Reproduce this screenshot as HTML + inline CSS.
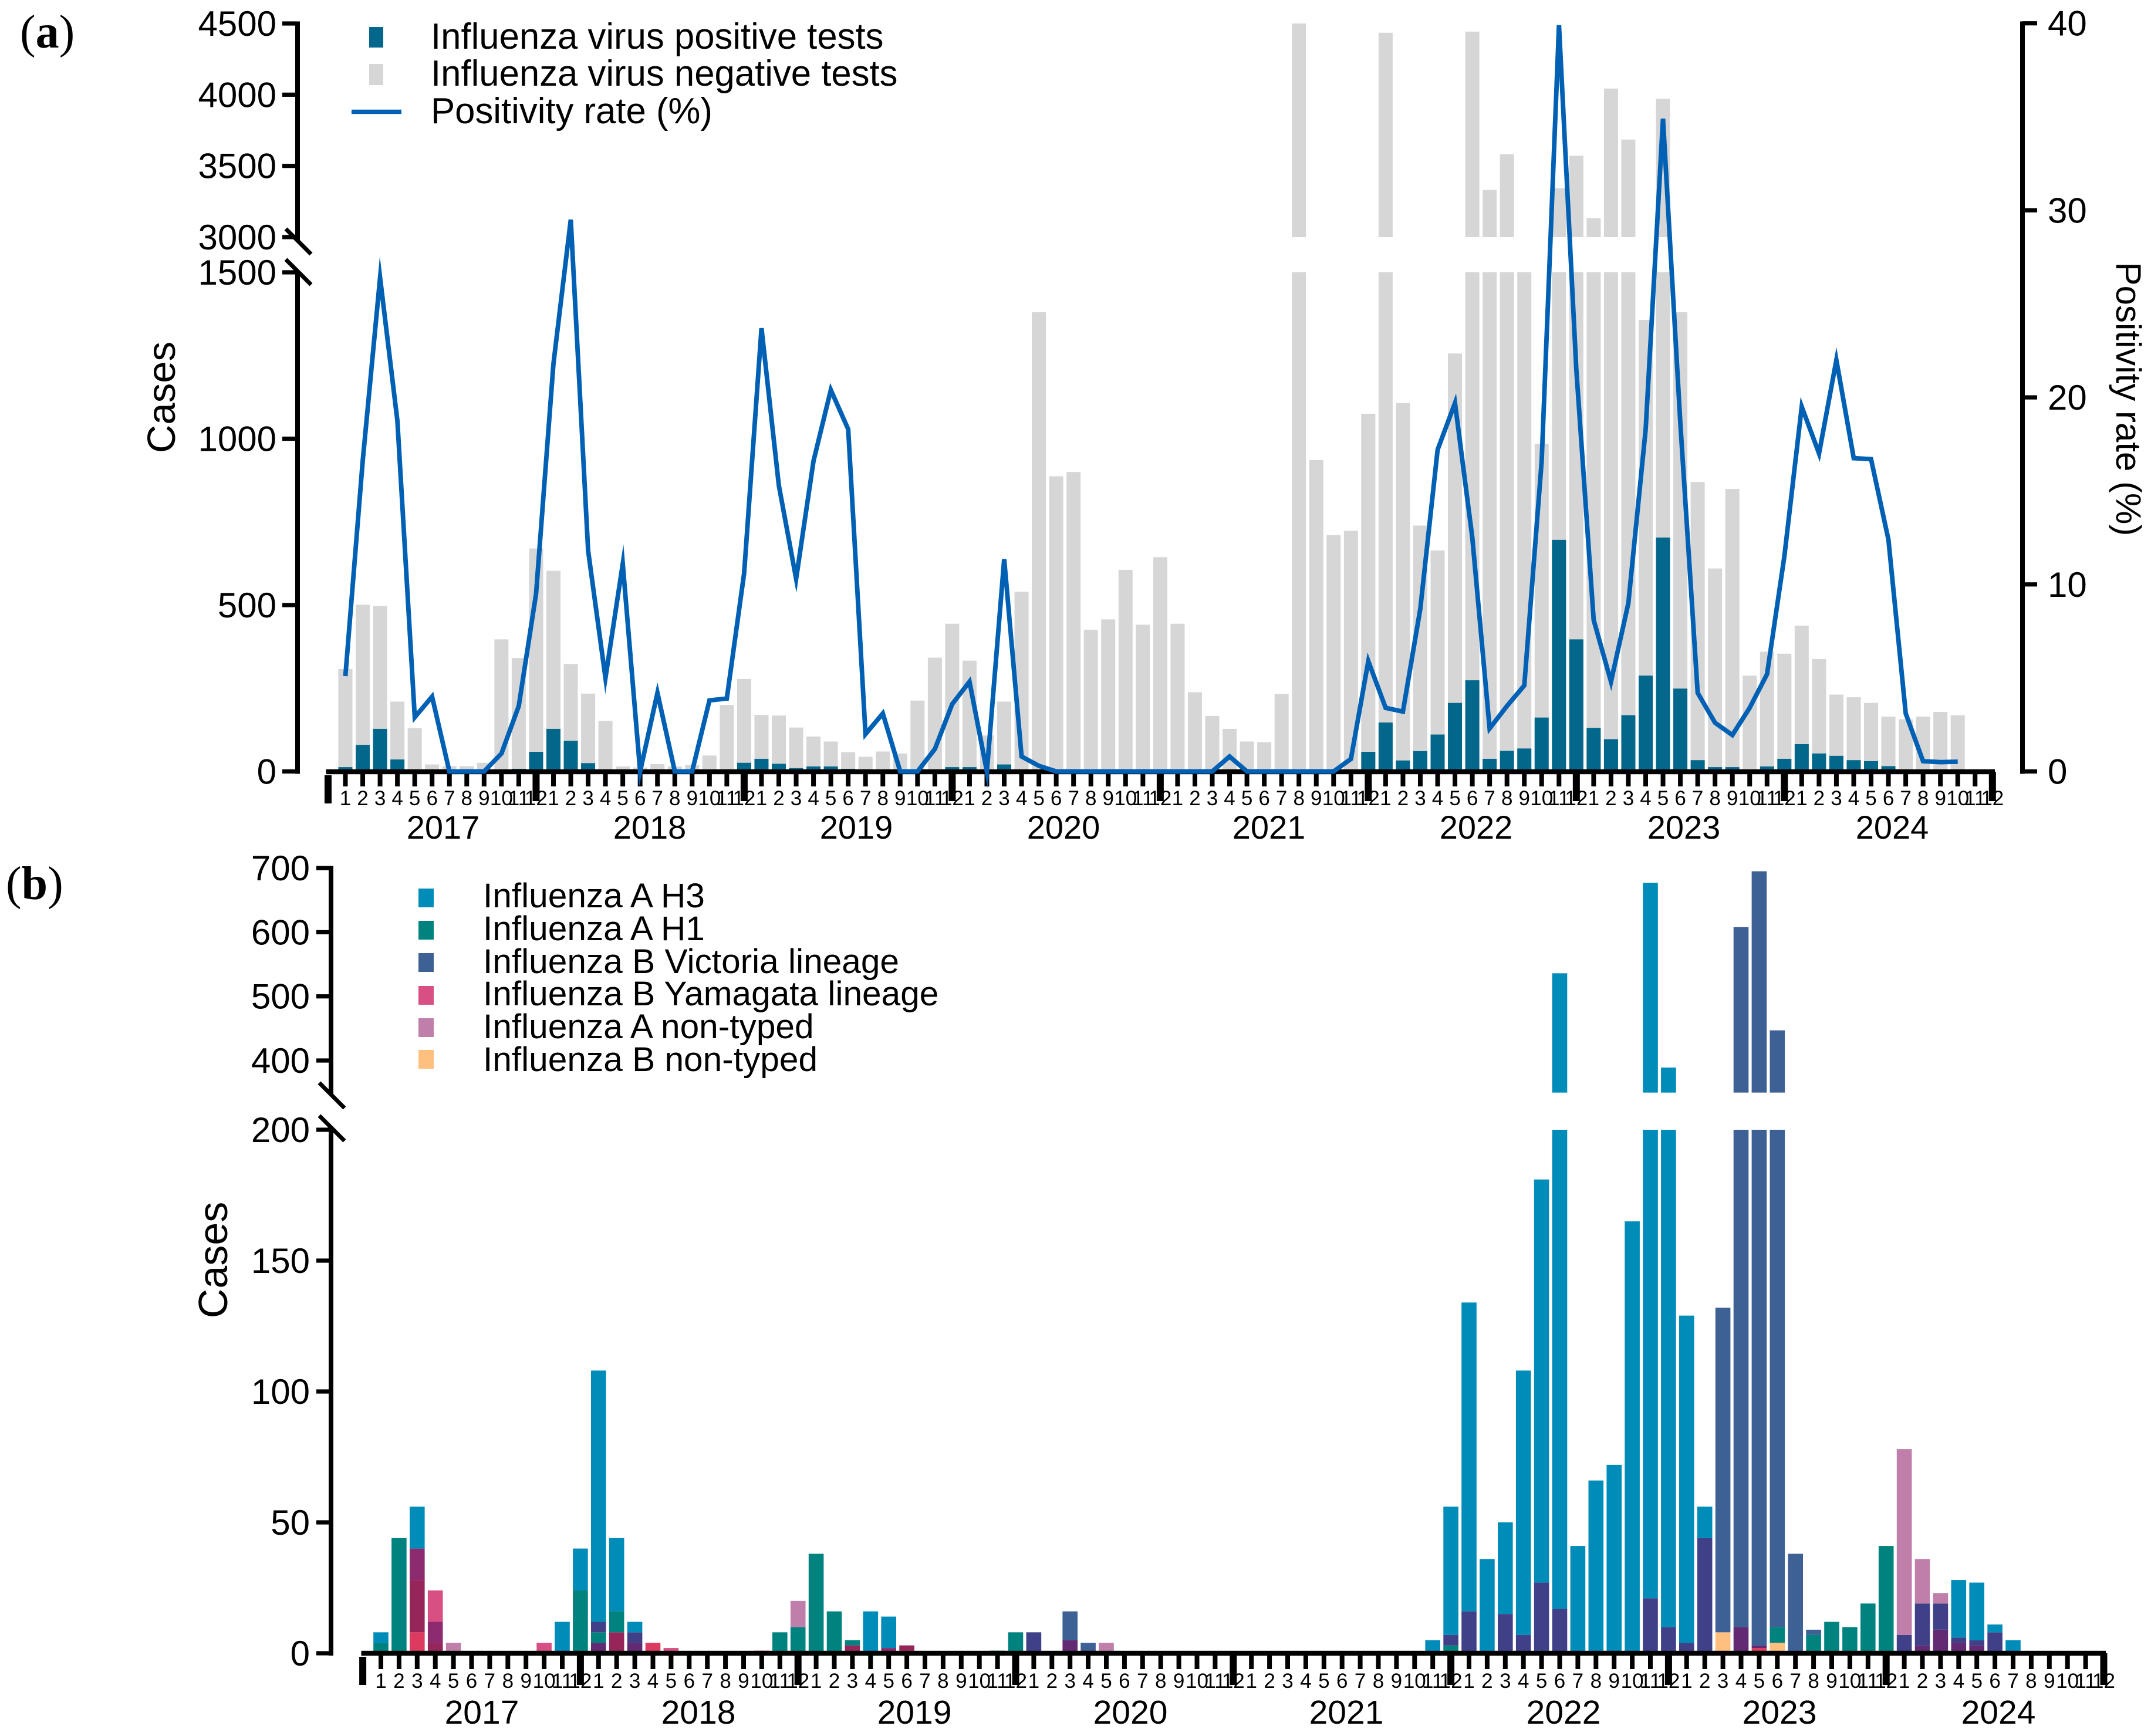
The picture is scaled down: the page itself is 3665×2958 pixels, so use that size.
<!DOCTYPE html>
<html lang="en">
<head>
<meta charset="utf-8">
<title>Influenza surveillance 2017-2024</title>
<style>
html,body{margin:0;padding:0;background:#fff;}
svg{display:block;font-family:"Liberation Sans",Arial,sans-serif;}
.legend{font-size:61.7px;fill:#000;}
.legendb{font-size:58.6px;fill:#000;}
.serif{font-family:"Liberation Serif",serif;font-size:80px;fill:#000;}
</style>
</head>
<body>
<svg id="figure" xmlns="http://www.w3.org/2000/svg" width="3665" height="2958" viewBox="0 0 3665 2958">
  <rect x="0" y="0" width="3665" height="2958" fill="#fff"/>

  <g id="panelA"></g>
  <g id="panelB"></g>

  <text class="serif" x="34" y="81">(<tspan font-weight="bold">a</tspan>)</text>
  <text class="serif" x="10" y="1532">(<tspan font-weight="bold">b</tspan>)</text>

  <text transform="translate(298,677) rotate(-90)" text-anchor="middle" font-size="67">Cases</text>
  <text transform="translate(3606,680) rotate(90)" text-anchor="middle" font-size="60">Positivity rate (%)</text>
  <text transform="translate(387,2147) rotate(-90)" text-anchor="middle" font-size="70">Cases</text>

  <g>
    <rect x="629" y="46" width="24" height="35" fill="#02678a"/>
    <text class="legend" x="734" y="83">Influenza virus positive tests</text>
    <rect x="629" y="109" width="24" height="36" fill="#d6d6d6"/>
    <text class="legend" x="734" y="146">Influenza virus negative tests</text>
    <line x1="599" y1="190.5" x2="684" y2="190.5" stroke="#0060b4" stroke-width="7.5"/>
    <text class="legend" x="734" y="210">Positivity rate (%)</text>
  </g>

  <g>
    <rect x="713" y="1514" width="26" height="32" fill="#008cb9"/>
    <text class="legendb" x="823" y="1546">Influenza A H3</text>
    <rect x="713" y="1569" width="26" height="32" fill="#00837f"/>
    <text class="legendb" x="823" y="1602">Influenza A H1</text>
    <rect x="713" y="1624" width="26" height="32" fill="#3d6195"/>
    <text class="legendb" x="823" y="1658">Influenza B Victoria lineage</text>
    <rect x="713" y="1680" width="26" height="32" fill="#d84f84"/>
    <text class="legendb" x="823" y="1713">Influenza B Yamagata lineage</text>
    <rect x="713" y="1735" width="26" height="32" fill="#c07eaa"/>
    <text class="legendb" x="823" y="1769">Influenza A non-typed</text>
    <rect x="713" y="1789" width="26" height="32" fill="#ffbf7f"/>
    <text class="legendb" x="823" y="1825">Influenza B non-typed</text>
  </g>
</svg>

<script>
/* ---------- shared categories ---------- */
const years = ["2017","2018","2019","2020","2021","2022","2023","2024"];
const monthLabels = ["1","2","3","4","5","6","7","8","9","10","11","12"];

/* ---------- panel (a) data ---------- */
const negativeTests = [308,501,497,210,130,21,16,16,26,397,341,670,603,323,234,152,15,12,22,15,20,48,200,278,
  170,168,132,105,90,58,44,60,54,213,342,444,333,108,210,540,1380,887,900,426,457,606,441,644,
  444,238,167,128,90,88,233,4500,936,710,723,1075,4435,1107,739,664,1256,4443,3331,3582,2500,985,3343,3571,
  3133,4043,3685,1357,3971,1380,870,610,849,288,360,354,438,338,231,223,206,165,157,165,179,169];
const positiveTests = [13,80,128,36,2,0,0,0,0,0,8,59,128,92,25,0,0,0,0,0,0,0,0,26,
  38,23,10,15,15,8,0,0,0,0,0,13,13,0,21,0,0,0,0,0,0,0,0,0,
  0,0,0,0,0,0,0,0,0,0,0,59,147,33,61,111,206,274,38,62,69,162,696,397,
  131,97,169,288,703,249,34,13,13,5,15,38,82,54,47,34,31,16,0,0,0,0];
const positivityRate = [5.1,16.6,26.4,18.75,2.9,4.0,0,0,0,0.96,3.5,9.5,21.8,29.5,11.8,5,11.1,0,4.2,0,0,3.8,3.9,10.6,
  23.7,15.3,10.3,16.6,20.4,18.3,2,3.1,0,0,1.2,3.6,4.8,0,11.35,0.8,0.3,0,0,0,0,0,0,0,
  0,0,0,0.8,0,0,0,0,0,0,0.67,5.9,3.4,3.2,8.7,17.2,19.7,12.5,2.3,3.5,4.6,16.6,39.9,21.5,
  8.1,4.8,9,18.3,34.9,18.6,4.2,2.6,1.95,3.4,5.2,11.5,19.5,17,22,16.75,16.7,12.4,3.1,0.55,0.5,0.52];
const aLeftTicksLow = [0,500,1000,1500];
const aLeftTicksHigh = [3000,3500,4000,4500];
const aRightTicks = [0,10,20,30,40];

/* ---------- panel (b) data ---------- */
const h3Cases = [8,0,56,12,0,0,0,0,0,0,12,40,108,44,12,0,0,0,0,0,0,0,0,0,
  0,0,0,16,14,0,0,0,0,0,0,0,8,0,0,0,0,0,0,0,0,0,0,0,
  0,0,0,0,0,0,0,0,0,0,5,56,134,36,50,108,181,536,41,66,72,165,677,389,
  129,56,0,0,0,0,0,0,0,0,0,0,0,0,0,28,27,11,5,0,0,0,0,0];
const h1Cases = [4,44,28,4,0,0,0,0,0,0,0,24,8,16,4,0,0,0,0,0,0,0,8,10,
  38,16,5,0,0,3,0,0,0,0,1,8,0,0,0,0,0,0,0,0,0,0,0,0,
  0,0,0,0,0,0,0,0,0,0,0,3,0,0,0,0,1,0,0,0,0,0,0,0,
  0,0,0,0,0,10,0,7,12,10,19,41,0,0,0,0,0,0,0,0,0,0,0,0];
const victoriaCases = [0,0,0,0,0,0,0,0,0,0,0,0,12,0,8,0,0,0,0,0,0,0,0,0,
  0,0,0,0,0,0,0,0,0,0,0,0,8,0,16,4,0,0,0,0,0,0,0,0,
  0,0,0,0,0,0,0,0,0,0,0,7,16,0,15,7,27,17,0,0,0,0,21,10,
  4,44,132,608,695,447,38,9,0,0,0,0,7,19,19,6,5,8,0,0,0,0,0,0];
const yamagataCases = [0,0,40,24,0,0,0,0,0,4,0,0,4,8,4,4,2,0,0,0,0,1,0,0,
  0,0,3,0,2,3,0,0,0,0,0,0,0,0,5,1,0,0,0,0,0,0,0,0,
  0,0,0,0,0,0,0,0,0,0,0,0,0,0,0,0,0,0,0,0,0,0,0,0,
  1,0,0,10,3,0,0,0,0,0,0,0,0,3,9,4,3,0,0,0,0,0,0,0];
const aNonTypedCases = [0,0,0,0,4,0,0,0,0,0,0,0,0,0,0,0,0,0,0,0,0,0,0,20,
  0,0,0,0,0,0,0,0,0,0,0,0,0,0,0,0,4,0,0,0,0,0,0,0,
  0,0,0,0,0,0,0,0,0,0,0,0,0,0,0,0,0,0,0,0,0,0,0,0,
  0,0,0,0,0,0,0,0,0,0,0,0,78,36,23,0,0,0,0,0,0,0,0,0];
const bNonTypedCases = [0,0,8,0,0,0,0,0,0,0,0,0,0,0,0,4,0,0,0,0,0,0,0,0,
  0,0,0,0,0,1,0,0,0,0,0,0,0,0,0,0,0,0,0,0,0,0,0,0,
  0,0,0,0,0,0,0,0,0,0,0,0,0,0,0,0,0,0,0,0,0,0,0,0,
  0,0,8,0,2,4,0,0,0,0,0,0,0,0,0,0,0,0,0,0,0,0,0,0];
const bLeftTicksLow = [0,50,100,150,200];
const bLeftTicksHigh = [400,500,600,700];

/* ---------- helpers ---------- */
const NS = "http://www.w3.org/2000/svg";
function mk(parent, tag, attrs, name) {
  const el = document.createElementNS(NS, tag);
  for (const k in attrs) el.setAttribute(k, attrs[k]);
  
  
  parent.appendChild(el);
  return el;
}
function label(parent, x, y, str, size, anchor, name) {
  const t = mk(parent, "text", {x: x, y: y, "font-size": size, "text-anchor": anchor, fill: "#000"}, name);
  t.textContent = str;
  return t;
}
/* a chart panel's axes config */
function drawMonthAxis(g, xOf, y0, cfg) {
  mk(g, "rect", {x: cfg.start, y: y0 - 4.2, width: cfg.end - cfg.start, height: 8.4, fill: "#000"}, "x-axis-line");
  mk(g, "rect", {x: xOf(-1) - 6, y: y0 + 6, width: 12, height: cfg.firstLen, fill: "#000"}, "x-axis-major-tick-first");
  for (let i = 0; i < years.length * 12; i++) {
    const major = (i % 12) === 11;
    if (major) {
      mk(g, "rect", {x: xOf(i) - 6, y: y0, width: 12, height: cfg.majorLen, fill: "#000"}, "x-axis-major-tick");
    } else {
      mk(g, "rect", {x: xOf(i) - 4, y: y0, width: 8, height: cfg.minorLen, fill: "#000"}, "x-axis-minor-tick");
    }
    label(g, xOf(i), y0 + cfg.monthDy, monthLabels[i % 12], 35, "middle", "x-axis-month-label");
  }
  years.forEach(function (yr, k) {
    label(g, cfg.yearX[k], y0 + cfg.yearDy, yr, cfg.yearSize, "middle", "x-axis-year-label");
  });
}
function drawBreakAxis(g, ax, topY, gapA, gapB, botY, slashes) {
  mk(g, "rect", {x: ax - 4, y: topY - 3.5, width: 8, height: gapA - topY + 3.5, fill: "#000"}, "y-axis-line-upper");
  mk(g, "rect", {x: ax - 4, y: gapB, width: 8, height: botY - gapB + 4, fill: "#000"}, "y-axis-line-lower");
  slashes.forEach(function (yTop) {
    mk(g, "line", {x1: ax - 20, y1: yTop, x2: ax + 23, y2: yTop + 43, stroke: "#000", "stroke-width": 7}, "y-axis-break-mark");
  });
}

/* ---------- panel (a) ---------- */
const gA = document.getElementById("panelA");
const xA = function (i) { return 588.5 + 29.54 * i; };
const yALow = function (v) { return 1314.5 - v * 283.5 / 500; };
const yAHigh = function (v) { return 404 - (v - 3000) * 121.33 / 500; };
const yARate = function (p) { return 1314.5 - p * 31.87; };
const A_LOW_MAX = 1500, A_HIGH_MIN = 3000, A_W = 24;

function barA(i, v, color, name) {
  if (v <= 0) return;
  const low = Math.min(v, A_LOW_MAX);
  mk(gA, "rect", {x: xA(i) - A_W / 2, y: yALow(low), width: A_W, height: yALow(0) - yALow(low), fill: color}, name);
  if (v > A_HIGH_MIN) {
    mk(gA, "rect", {x: xA(i) - A_W / 2, y: yAHigh(v), width: A_W, height: yAHigh(A_HIGH_MIN) - yAHigh(v), fill: color}, name + "-upper");
  }
}
negativeTests.forEach(function (v, i) { barA(i, v, "#d6d6d6", "negative-tests-bar"); });
positiveTests.forEach(function (v, i) { barA(i, v, "#02678a", "positive-tests-bar"); });

drawBreakAxis(gA, 507, 40, 410, 462, 1314.5, [390, 442]);
aLeftTicksLow.forEach(function (v) {
  mk(gA, "rect", {x: 481, y: yALow(v) - 3.6, width: 25, height: 7.2, fill: "#000"}, "y-axis-tick");
  label(gA, 471, yALow(v) + 21, String(v), 60, "end", "y-axis-tick-label");
});
aLeftTicksHigh.forEach(function (v) {
  mk(gA, "rect", {x: 481, y: yAHigh(v) - 3.6, width: 25, height: 7.2, fill: "#000"}, "y-axis-tick");
  label(gA, 471, yAHigh(v) + 21, String(v), 60, "end", "y-axis-tick-label");
});
mk(gA, "rect", {x: 3442, y: 36.5, width: 8, height: 1282, fill: "#000"}, "right-axis-line");
aRightTicks.forEach(function (p) {
  mk(gA, "rect", {x: 3446, y: yARate(p) - 3.6, width: 25, height: 7.2, fill: "#000"}, "right-axis-tick");
  label(gA, 3489, yARate(p) + 21, String(p), 60, "start", "right-axis-tick-label");
});
drawMonthAxis(gA, xA, 1315, {
  start: 555.5, end: 3399, firstLen: 48, majorLen: 50, minorLen: 25,
  monthDy: 57, yearDy: 114, yearSize: 56,
  yearX: [755, 1107, 1459, 1812, 2162, 2515, 2869, 3224]
});
mk(gA, "polyline", {
  points: positivityRate.map(function (p, i) { return xA(i).toFixed(1) + "," + yARate(p).toFixed(1); }).join(" "),
  fill: "none", stroke: "#0060b4", "stroke-width": 7.8, "stroke-linejoin": "miter", "stroke-miterlimit": 10
}, "positivity-rate-line");

/* ---------- panel (b) ---------- */
const gB = document.getElementById("panelB");
const xB = function (i) { return 649 + 30.9 * i; };
const yBLow = function (v) { return 2817 - v * 4.46; };
const yBHigh = function (v) { return 1807 - (v - 400) * 1.093; };
const B_LOW_MAX = 200, B_HIGH_MIN = 350, B_W = 25.6;

function overlapColor(h3, h1, vic, yam, ant, bnt) {
  if (bnt) return yam ? "#dc3a5e" : "#ffbf7f";
  if (yam) {
    if (vic) return "#612a72";
    if (h1) return "#96265a";
    if (h3) return "#8c2b6f";
    return "#d84f84";
  }
  if (h1) return "#00837f";
  if (vic) return (h3 || ant) ? "#404088" : "#3d6195";
  if (h3) return "#008cb9";
  if (ant) return "#c07eaa";
  return "#fff";
}
function segmentB(i, lo, hi, color) {
  const lowTop = Math.min(hi, B_LOW_MAX);
  if (lo < lowTop) {
    mk(gB, "rect", {x: xB(i) - B_W / 2, y: yBLow(lowTop), width: B_W, height: yBLow(lo) - yBLow(lowTop), fill: color}, "case-bar-segment");
  }
  if (hi > B_HIGH_MIN) {
    const l = Math.max(lo, B_HIGH_MIN);
    mk(gB, "rect", {x: xB(i) - B_W / 2, y: yBHigh(hi), width: B_W, height: yBHigh(l) - yBHigh(hi), fill: color}, "case-bar-segment-upper");
  }
}
h3Cases.forEach(function (_, i) {
  const vals = [h3Cases[i], h1Cases[i], victoriaCases[i], yamagataCases[i], aNonTypedCases[i], bNonTypedCases[i]];
  const levels = Array.from(new Set([0].concat(vals))).sort(function (a, b) { return a - b; });
  for (let k = 0; k + 1 < levels.length; k++) {
    const hi = levels[k + 1];
    const c = overlapColor(vals[0] >= hi, vals[1] >= hi, vals[2] >= hi, vals[3] >= hi, vals[4] >= hi, vals[5] >= hi);
    segmentB(i, levels[k], hi, c);
  }
});
drawBreakAxis(gB, 564, 1479, 1865, 1921, 2817, [1845, 1901]);
bLeftTicksLow.forEach(function (v) {
  mk(gB, "rect", {x: 539, y: yBLow(v) - 3.6, width: 25, height: 7.2, fill: "#000"}, "y-axis-tick");
  label(gB, 528, yBLow(v) + 21, String(v), 60, "end", "y-axis-tick-label");
});
bLeftTicksHigh.forEach(function (v) {
  mk(gB, "rect", {x: 539, y: yBHigh(v) - 3.6, width: 25, height: 7.2, fill: "#000"}, "y-axis-tick");
  label(gB, 528, yBHigh(v) + 21, String(v), 60, "end", "y-axis-tick-label");
});
drawMonthAxis(gB, xB, 2817, {
  start: 615.5, end: 3588, firstLen: 48, majorLen: 54, minorLen: 27,
  monthDy: 59, yearDy: 120, yearSize: 57,
  yearX: [821, 1190, 1558, 1926, 2294, 2664, 3032, 3405]
});
</script>
</body>
</html>
